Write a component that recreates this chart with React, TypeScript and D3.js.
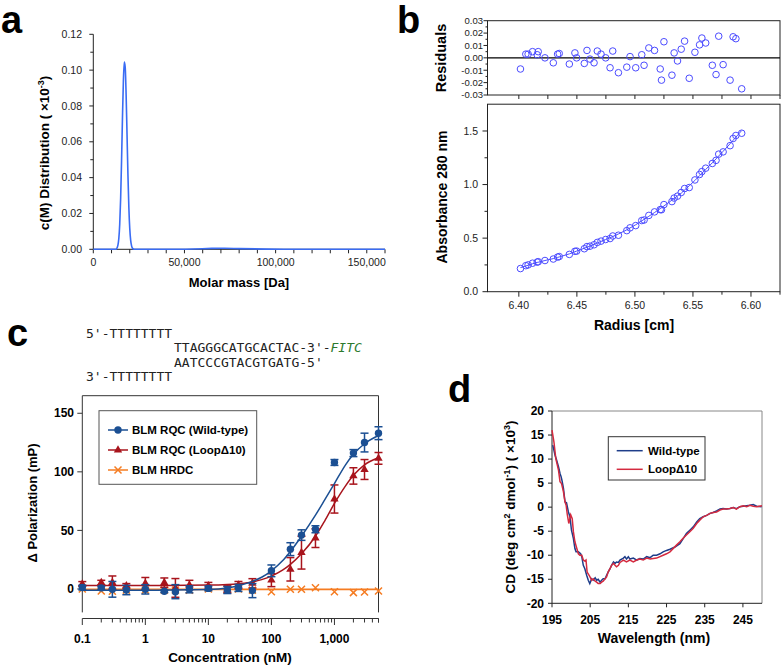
import React from "react";
import * as d3 from "d3";

const FONT = "'Liberation Sans', Arial, Helvetica, sans-serif";
const MONO = "'DejaVu Sans Mono', 'Liberation Mono', monospace";

// ---------- Panel a : c(M) distribution ----------
const massDa = [0, 10000, 12500, 13000, 13500, 14000, 14500, 15000, 15500, 16000, 16500, 17000, 17500, 18000, 18500, 19000, 19500, 20000, 20500, 21000, 21500, 22000, 23000, 40000, 55000, 65000, 72000, 80000, 95000, 110000, 160000];
const cmDist = [0, 0, 0, 0.0007, 0.0023, 0.006, 0.0141, 0.0285, 0.0494, 0.0735, 0.0939, 0.1045, 0.1016, 0.0864, 0.0642, 0.0416, 0.0235, 0.0116, 0.005, 0.0019, 0.0006, 0.0002, 0, 0, 0.0002, 0.0005, 0.0006, 0.0004, 0.0001, 0, 0];
const massTicks = [0, 50000, 100000, 150000];
const cmTicks = [0, 0.02, 0.04, 0.06, 0.08, 0.1, 0.12];

// ---------- Panel b : sedimentation equilibrium ----------
const radius = [6.4014, 6.406, 6.408, 6.4118, 6.4158, 6.4167, 6.4225, 6.4297, 6.4334, 6.4348, 6.4435, 6.4483, 6.4498, 6.4564, 6.4587, 6.4613, 6.4648, 6.4676, 6.4708, 6.4748, 6.4786, 6.4809, 6.4858, 6.493, 6.4958, 6.5007, 6.5059, 6.5079, 6.512, 6.5169, 6.5218, 6.5229, 6.525, 6.5319, 6.5338, 6.5367, 6.5399, 6.5428, 6.5468, 6.5517, 6.5557, 6.5577, 6.561, 6.5667, 6.5699, 6.5722, 6.576, 6.582, 6.5846, 6.587, 6.592];
const absorbance = [0.216, 0.243, 0.25, 0.266, 0.276, 0.28, 0.291, 0.305, 0.323, 0.328, 0.348, 0.377, 0.379, 0.401, 0.421, 0.425, 0.438, 0.46, 0.472, 0.487, 0.496, 0.52, 0.527, 0.57, 0.596, 0.617, 0.664, 0.669, 0.712, 0.745, 0.766, 0.765, 0.813, 0.841, 0.874, 0.892, 0.926, 0.963, 0.972, 1.043, 1.094, 1.121, 1.153, 1.197, 1.226, 1.284, 1.305, 1.363, 1.43, 1.458, 1.479];
const residual = [-0.009, 0.003, 0.003, 0.005, 0.0025, 0.005, 0, -0.004, 0.003, 0.0035, -0.005, 0.004, 0, -0.0045, 0.006, -0.001, -0.004, 0.0055, 0.003, 0, -0.008, 0.0055, -0.012, -0.0075, 0.001, -0.008, 0.0025, -0.006, 0.008, 0.006, -0.009, -0.018, 0.013, -0.014, 0.004, -0.0025, 0.007, 0.0135, -0.0165, 0.0045, 0.0105, 0.016, 0.012, -0.006, -0.0135, 0.0175, -0.0055, -0.018, 0.017, 0.0155, -0.025];
const radiusTicks = [6.4, 6.45, 6.5, 6.55, 6.6];
const absTicks = [0, 0.5, 1.0, 1.5];
const residTicks = [-0.03, -0.02, -0.01, 0, 0.01, 0.02, 0.03];

// ---------- Panel c : fluorescence polarization ----------
const conc = [0.1, 0.2, 0.3, 0.5, 1, 2, 3, 5, 10, 20, 30, 50, 100, 200, 300, 500, 1000, 2000, 3000, 5000];
const wtMean = [1.2, 0.9, -0.3, -0.9, -0.3, -2.0, -2.3, -0.3, 0.5, -0.9, 0.9, -1.4, 15.5, 34, 46, 51, 108, 116, 125, 133];
const wtErr = [2, 1.5, 6.7, 4, 4, 1, 6, 3, 2, 3, 3, 6, 5, 5.5, 4.5, 3, 2.5, 3, 8, 5.5];
const loopMean = [4.3, 5.4, 5.4, 2.6, 4.8, 5.4, 0.9, 3.4, 2.6, -0.3, 3.4, 4.8, 7.5, 16.8, 31, 43.4, 76.8, 96.5, 102, 111.5];
const loopErr = [2, 2, 5.7, 2, 5, 4, 8, 4, 3, 3, 3, 4, 5.5, 10, 14, 8, 12, 7, 8.5, 5];
const hrdcMean = [0, -1.7, -2, -1, -1, -1, -1, -1, 0, -0.5, 0, -1, -2.3, -0.3, -0.3, 1.1, -2.3, -3.1, -2.6, -1.7];
const fitConc = [0.1, 1, 10, 20, 30, 50, 70, 100, 150, 200, 300, 500, 700, 1000, 1500, 2000, 3000, 5000];
const wtFit = [-1, -1, -0.5, 0.8, 2.8, 6.5, 10, 15.5, 24, 32, 45, 63, 76, 90, 106, 115, 124, 131];
const loopFit = [3, 3, 3.3, 3.8, 4.5, 6, 8, 11, 16, 21, 30, 45, 58, 73, 88, 97, 106, 112];
const hrdcFitConc = [0.1, 5000];
const hrdcFit = [-0.3, -0.3];
const concTicks = [0.1, 1, 10, 100, 1000];
const concTickLabels = ["0.1", "1", "10", "100", "1,000"];
const polTicks = [0, 50, 100, 150];

// ---------- Panel d : CD spectra ----------
const wtWl = [195.2, 195.8, 196.2, 196.7, 197.1, 197.4, 197.6, 198.0, 198.4, 198.8, 199.3, 199.7, 200.1, 200.6, 201.0, 201.3, 201.9, 202.5, 202.8, 203.2, 203.6, 204.1, 204.5, 204.9, 205.4, 205.8, 206.3, 206.7, 207.1, 207.6, 208.0, 208.4, 208.9, 209.3, 209.7, 210.2, 210.6, 211.1, 211.5, 211.9, 212.4, 212.8, 213.7, 214.1, 214.5, 215.0, 215.4, 216.3, 217.2, 218.0, 218.9, 219.8, 220.7, 221.5, 222.4, 223.3, 224.1, 225.0, 225.9, 227.2, 228.5, 229.4, 230.2, 231.1, 232.0, 232.9, 233.7, 234.6, 235.5, 236.4, 237.2, 238.1, 239.0, 239.8, 240.7, 241.6, 242.5, 243.3, 244.2, 245.1, 246.0, 246.8, 247.7, 248.6, 249.9];
const wtCd = [12.9, 10.8, 9.8, 8.4, 7.0, 6.3, 5.6, 3.9, 1.1, 0.9, -1.0, -2.0, -4.8, -6.5, -8.6, -9.3, -9.3, -9.7, -10.3, -12.1, -12.8, -14.2, -15.2, -15.9, -14.9, -15.2, -14.7, -15.2, -15.0, -15.6, -15.2, -14.9, -14.9, -14.2, -13.5, -12.8, -12.1, -11.4, -11.7, -11.4, -11.5, -11.0, -10.6, -10.3, -10.8, -10.3, -10.8, -10.6, -11.0, -10.7, -10.8, -10.3, -10.5, -10.0, -10.0, -9.7, -9.3, -9.0, -8.75, -8.3, -7.6, -6.5, -5.5, -4.8, -4.1, -3.1, -2.4, -2.0, -1.7, -1.3, -1.1, -0.8, -0.4, -0.3, -0.4, -0.3, -0.1, -0.3, 0.1, 0.2, 0.3, 0.4, 0.55, 0.2, 0.1];
const loopWl = [195.0, 195.5, 196.0, 196.7, 197.1, 197.5, 198.0, 198.4, 198.7, 199.0, 199.4, 199.9, 200.3, 200.6, 201.0, 201.5, 201.9, 202.3, 202.8, 203.2, 203.6, 203.9, 204.2, 204.8, 205.4, 205.8, 206.3, 206.7, 207.1, 207.6, 208.0, 208.4, 208.9, 209.3, 209.7, 210.2, 210.6, 211.1, 211.5, 211.9, 212.4, 212.8, 213.7, 214.5, 215.4, 216.3, 217.2, 218.0, 218.9, 219.8, 220.7, 222.4, 224.1, 225.0, 225.9, 227.6, 228.5, 229.4, 230.2, 231.1, 232.0, 232.9, 233.7, 234.6, 235.5, 236.4, 237.2, 238.1, 239.0, 239.8, 240.7, 241.6, 242.5, 243.3, 244.2, 245.1, 246.0, 246.8, 247.7, 248.6, 250.0];
const loopCd = [16.0, 13.6, 10.1, 7.7, 5.3, 4.9, 3.2, 1.1, 0.4, -1.5, -3.4, -1.6, -2.4, -5.1, -7.2, -8.6, -9.7, -10.0, -10.0, -11.0, -11.2, -11.0, -13.5, -14.3, -15.2, -14.9, -15.4, -15.6, -15.9, -15.9, -15.6, -15.4, -14.9, -14.5, -13.5, -12.8, -12.1, -11.7, -12.1, -12.4, -12.1, -11.5, -11.0, -11.4, -11.0, -11.4, -11.0, -10.8, -11.0, -10.6, -10.8, -10.6, -10.0, -9.7, -9.3, -7.9, -7.2, -6.4, -5.8, -5.1, -4.4, -3.4, -2.7, -2.0, -1.7, -1.3, -1.1, -1.0, -0.6, -0.4, -0.4, -0.3, -0.1, -0.4, 0.1, 0.3, 0.1, 0.4, 0.2, 0.1, 0.3];
const wlTicks = [195, 205, 215, 225, 235, 245];
const cdTicks = [-20, -15, -10, -5, 0, 5, 10, 15, 20];

const AX = "#222";
const fix = (v: number, d: number) => (Math.abs(v) < 1e-9 ? 0 : v).toFixed(d);

function PanelA() {
  const x = d3.scaleLinear().domain([0, 160000]).range([93.3, 385]);
  const y = d3.scaleLinear().domain([0, 0.12]).range([249.3, 34.3]);
  const line = d3.line<number>().x((_, i) => x(massDa[i])).y((d) => y(d)).curve(d3.curveMonotoneX);
  const xMinor = d3.range(0, 160001, 10000);
  const yMinor = d3.range(0, 13).map((i) => i * 0.01);
  const fmt = d3.format(",");
  return (
    <g fontFamily={FONT}>
      <text x={1} y={33} fontSize={38} fontWeight="bold">a</text>
      <line x1={x(0)} x2={x(0)} y1={y(0.12)} y2={y(0)} stroke={AX} />
      <line x1={x(0)} x2={x(160000)} y1={y(0)} y2={y(0)} stroke={AX} />
      {yMinor.map((v, i) => (
        <line key={i} x1={x(0) - (i % 2 === 0 ? 4 : 3)} x2={x(0)} y1={y(v)} y2={y(v)} stroke={AX} />
      ))}
      {cmTicks.map((v) => (
        <text key={v} x={82} y={y(v) + 3.6} fontSize={10.5} textAnchor="end" fill="#222">{fix(v, 2)}</text>
      ))}
      {xMinor.map((v) => (
        <line key={v} x1={x(v)} x2={x(v)} y1={y(0)} y2={y(0) + 4} stroke={AX} />
      ))}
      {massTicks.map((v) => (
        <text key={v} x={x(v)} y={266} fontSize={10.5} textAnchor="middle" fill="#222">{fmt(v)}</text>
      ))}
      <path d={line(cmDist) || ""} fill="none" stroke="#3a6cf4" strokeWidth={1.6} />
      <text x={239} y={287} fontSize={13} fontWeight="bold" textAnchor="middle">Molar mass [Da]</text>
      <text transform="translate(49,153) rotate(-90)" fontSize={13.5} fontWeight="bold" textAnchor="middle">
        c(M) Distribution ( ×10<tspan baselineShift="super" fontSize={9}>-3</tspan>)
      </text>
    </g>
  );
}

function PanelB() {
  const x = d3.scaleLinear().domain([6.373, 6.625]).range([487.5, 780]);
  const yr = d3.scaleLinear().domain([-0.03, 0.03]).range([95, 20.7]);
  const ya = d3.scaleLinear().domain([0, 1.75]).range([291.7, 104.2]);
  const col = "#4b4bff";
  const xt = d3.range(0, 10).map((i) => 6.4 + i * 0.025);
  const fitLine = d3
    .line<number>()
    .x((d) => x(d))
    .y((_, i) => ya(absorbance[i] - residual[i]));
  const rMinor = d3.range(0, 13).map((i) => -0.03 + i * 0.005);
  const aMinor = d3.range(0, 7).map((i) => i * 0.25);
  return (
    <g fontFamily={FONT}>
      <text x={397} y={33} fontSize={38} fontWeight="bold">b</text>
      {/* residuals */}
      <rect x={487.5} y={20.7} width={292.5} height={74.3} fill="none" stroke={AX} />
      <line x1={487.5} x2={780} y1={yr(0)} y2={yr(0)} stroke="#000" strokeWidth={1.3} />
      {rMinor.map((v, i) => (
        <line key={i} x1={487.5 - (i % 2 === 0 ? 4 : 2)} x2={487.5} y1={yr(v)} y2={yr(v)} stroke={AX} />
      ))}
      {residTicks.map((v) => (
        <text key={v} x={483} y={yr(v) + 3.3} fontSize={9.5} textAnchor="end" fill="#222">{fix(v, 2)}</text>
      ))}
      {xt.map((v, i) => (
        <line key={i} x1={x(v)} x2={x(v)} y1={95} y2={99} stroke={AX} />
      ))}
      {radius.map((r, i) => (
        <circle key={i} cx={x(r)} cy={yr(residual[i])} r={3.3} fill="none" stroke={col} strokeWidth={1} />
      ))}
      <text transform="translate(446,58) rotate(-90)" fontSize={14.5} fontWeight="bold" textAnchor="middle">Residuals</text>
      {/* absorbance */}
      <rect x={487.5} y={104.2} width={292.5} height={187.5} fill="none" stroke={AX} />
      {aMinor.map((v, i) => (
        <line key={i} x1={487.5 - (i % 2 === 0 ? 5 : 3)} x2={487.5} y1={ya(v)} y2={ya(v)} stroke={AX} />
      ))}
      {absTicks.map((v) => (
        <text key={v} x={478} y={ya(v) + 3.6} fontSize={10.5} textAnchor="end" fill="#222">{fix(v, 1)}</text>
      ))}
      {xt.map((v, i) => (
        <line key={i} x1={x(v)} x2={x(v)} y1={291.7} y2={291.7 + (i % 2 === 0 ? 5 : 3)} stroke={AX} />
      ))}
      {radiusTicks.map((v) => (
        <text key={v} x={x(v)} y={309} fontSize={10.5} textAnchor="middle" fill="#222">{fix(v, 2)}</text>
      ))}
      <path d={fitLine(radius) || ""} fill="none" stroke={col} strokeWidth={1} />
      {radius.map((r, i) => (
        <circle key={i} cx={x(r)} cy={ya(absorbance[i])} r={3.3} fill="none" stroke={col} strokeWidth={1} />
      ))}
      <text transform="translate(447,197) rotate(-90)" fontSize={14} fontWeight="bold" textAnchor="middle">Absorbance 280 nm</text>
      <text x={634} y={330} fontSize={14} fontWeight="bold" textAnchor="middle">Radius [cm]</text>
    </g>
  );
}

function PanelC() {
  const x = d3.scaleLog().domain([0.1, 5000]).range([82.3, 378.5]);
  const y = d3.scaleLinear().domain([-20, 165]).range([612.4, 395.7]);
  const blue = "#1b4f93";
  const red = "#a8141c";
  const orange = "#f57c22";
  const fitL = (xs: number[]) =>
    d3
      .line<number>()
      .x((_, i) => x(xs[i]))
      .y((d) => y(d))
      .curve(d3.curveMonotoneX);
  const minor: number[] = [];
  [0.1, 1, 10, 100, 1000].forEach((dec) => {
    for (let k = 2; k <= 9; k++) if (dec * k <= 5000) minor.push(dec * k);
  });
  const tri = d3.symbol(d3.symbolTriangle, 30)() || "";
  const cross = "M-3.5,-3.5L3.5,3.5M-3.5,3.5L3.5,-3.5";
  const axisY = 618.5;
  const err = (c: number, m: number, e: number, color: string, k: string) => (
    <g key={k} stroke={color} strokeWidth={1.5}>
      <line x1={x(c)} x2={x(c)} y1={y(m - e)} y2={y(m + e)} />
      <line x1={x(c) - 4} x2={x(c) + 4} y1={y(m - e)} y2={y(m - e)} />
      <line x1={x(c) - 4} x2={x(c) + 4} y1={y(m + e)} y2={y(m + e)} />
    </g>
  );
  return (
    <g fontFamily={FONT}>
      <text x={7} y={346} fontSize={38} fontWeight="bold">c</text>
      <g fontFamily={MONO} fontSize={13} fill="#222">
        <text x={86} y={338}>5'-TTTTTTTT</text>
        <text x={174} y={352}>
          TTAGGGCATGCACTAC-3'-<tspan fill="#2d7a2d" fontStyle="italic">FITC</tspan>
        </text>
        <text x={174} y={367}>AATCCCGTACGTGATG-5'</text>
        <text x={86} y={381}>3'-TTTTTTTT</text>
      </g>
      {/* frame */}
      <path d={`M${x(0.1)},${y(-20)}V${y(165)}H${x(5000)}V${y(-20)}`} fill="none" stroke="#333" />
      <line x1={x(0.1)} x2={x(5000)} y1={axisY} y2={axisY} stroke="#333" />
      {concTicks.map((v) => (
        <line key={v} x1={x(v)} x2={x(v)} y1={axisY} y2={axisY + 6.5} stroke="#333" />
      ))}
      {minor.map((v, i) => (
        <line key={i} x1={x(v)} x2={x(v)} y1={axisY} y2={axisY + 4} stroke="#333" />
      ))}
      <line x1={x(5000)} x2={x(5000)} y1={axisY} y2={axisY + 4} stroke="#333" />
      {concTicks.map((v, i) => (
        <text key={v} x={x(v)} y={643} fontSize={12} fontWeight="bold" textAnchor="middle">{concTickLabels[i]}</text>
      ))}
      {polTicks.map((v) => (
        <g key={v}>
          <line x1={x(0.1) - 5} x2={x(0.1)} y1={y(v)} y2={y(v)} stroke="#333" />
          <text x={74} y={y(v) + 4.2} fontSize={12} fontWeight="bold" textAnchor="end">{v}</text>
        </g>
      ))}
      {/* HRDC */}
      <path d={fitL(hrdcFitConc)(hrdcFit) || ""} fill="none" stroke={orange} strokeWidth={1.8} />
      {conc.map((c, i) => (
        <path key={i} d={cross} transform={`translate(${x(c)},${y(hrdcMean[i])})`} stroke={orange} strokeWidth={1.5} fill="none" />
      ))}
      {/* Loop */}
      <path d={fitL(fitConc)(loopFit) || ""} fill="none" stroke={red} strokeWidth={1.5} />
      {conc.map((c, i) => err(c, loopMean[i], loopErr[i], red, "le" + i))}
      {conc.map((c, i) => (
        <path key={i} d={tri} transform={`translate(${x(c)},${y(loopMean[i])})`} fill={red} />
      ))}
      {/* WT */}
      <path d={fitL(fitConc)(wtFit) || ""} fill="none" stroke={blue} strokeWidth={1.5} />
      {conc.map((c, i) => err(c, wtMean[i], wtErr[i], blue, "we" + i))}
      {conc.map((c, i) => (
        <circle key={i} cx={x(c)} cy={y(wtMean[i])} r={3.7} fill={blue} />
      ))}
      {/* legend */}
      <rect x={99} y={410.7} width={157.7} height={73.6} fill="#fff" stroke="#555" />
      <g fontSize={11.5} fontWeight="bold">
        <line x1={108} x2={128} y1={430} y2={430} stroke={blue} strokeWidth={1.5} />
        <circle cx={118} cy={430} r={3.7} fill={blue} />
        <text x={132} y={434}>BLM RQC (Wild-type)</text>
        <line x1={108} x2={128} y1={450} y2={450} stroke={red} strokeWidth={1.5} />
        <path d={tri} transform="translate(118,450)" fill={red} />
        <text x={132} y={454}>BLM RQC (LoopΔ10)</text>
        <line x1={108} x2={128} y1={470} y2={470} stroke={orange} strokeWidth={1.5} />
        <path d={cross} transform="translate(118,470)" stroke={orange} strokeWidth={1.5} />
        <text x={132} y={474}>BLM HRDC</text>
      </g>
      <text transform="translate(37,503) rotate(-90)" fontSize={13} fontWeight="bold" textAnchor="middle">Δ Polarization (mP)</text>
      <text x={230} y={662} fontSize={13.5} fontWeight="bold" textAnchor="middle">Concentration (nM)</text>
    </g>
  );
}

function PanelD() {
  const x = d3.scaleLinear().domain([195, 250]).range([552, 762]);
  const y = d3.scaleLinear().domain([-20, 20]).range([603.3, 411]);
  const blue = "#1e3d8a";
  const red = "#d42a3f";
  const ln = (xs: number[]) => d3.line<number>().x((_, i) => x(xs[i])).y((d) => y(d));
  return (
    <g fontFamily={FONT}>
      <text x={448} y={402} fontSize={38} fontWeight="bold">d</text>
      <line x1={x(195)} x2={x(250)} y1={y(20)} y2={y(20)} stroke="#888" />
      <line x1={x(250)} x2={x(250)} y1={y(20)} y2={y(-20)} stroke="#888" />
      <line x1={x(195)} x2={x(195)} y1={y(20)} y2={y(-20)} stroke="#222" />
      <line x1={x(195)} x2={x(250)} y1={y(-20)} y2={y(-20)} stroke="#222" />
      {cdTicks.map((v) => (
        <g key={v}>
          <line x1={x(195) - 4} x2={x(195)} y1={y(v)} y2={y(v)} stroke="#222" />
          <text x={544} y={y(v) + 4.2} fontSize={12} fontWeight="bold" textAnchor="end">{v}</text>
        </g>
      ))}
      {wlTicks.map((v) => (
        <g key={v}>
          <line x1={x(v)} x2={x(v)} y1={y(-20)} y2={y(-20) + 4} stroke="#222" />
          <text x={x(v)} y={624} fontSize={12} fontWeight="bold" textAnchor="middle">{v}</text>
        </g>
      ))}
      <path d={ln(wtWl)(wtCd) || ""} fill="none" stroke={blue} strokeWidth={1.5} />
      <path d={ln(loopWl)(loopCd) || ""} fill="none" stroke={red} strokeWidth={1.5} />
      <rect x={608.3} y={436.7} width={96.7} height={43.3} fill="#fff" stroke="#333" />
      <g fontSize={11.5} fontWeight="bold">
        <line x1={616.7} x2={642.7} y1={450.7} y2={450.7} stroke={blue} strokeWidth={1.5} />
        <text x={648} y={454.8}>Wild-type</text>
        <line x1={616.7} x2={642.7} y1={469.3} y2={469.3} stroke={red} strokeWidth={1.5} />
        <text x={648} y={473.4}>LoopΔ10</text>
      </g>
      <text transform="translate(515,507) rotate(-90)" fontSize={13.5} fontWeight="bold" textAnchor="middle">
        CD (deg cm<tspan baselineShift="super" fontSize={9}>2</tspan> dmol<tspan baselineShift="super" fontSize={9}>-1</tspan>) ( ×10<tspan baselineShift="super" fontSize={9}>3</tspan>)
      </text>
      <text x={654} y={643} fontSize={14} fontWeight="bold" textAnchor="middle">Wavelength (nm)</text>
    </g>
  );
}

export default function App() {
  return (
    <svg
      width={784}
      height={668}
      viewBox="0 0 784 668"
      style={{ position: "absolute", left: 0, top: 0, background: "#fff" }}
    >
      <rect x={0} y={0} width={784} height={668} fill="#fff" />
      <PanelA />
      <PanelB />
      <PanelC />
      <PanelD />
    </svg>
  );
}
